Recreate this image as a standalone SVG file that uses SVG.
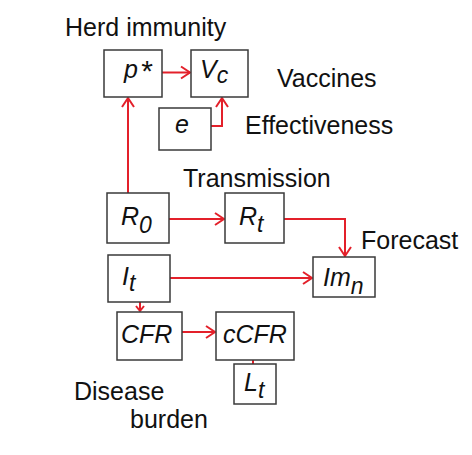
<svg xmlns="http://www.w3.org/2000/svg" width="472" height="455" viewBox="0 0 472 455">
<style>
.box{fill:#fff;stroke:#3a3a3a;stroke-width:1.5}
.lbl{font-family:"Liberation Sans",Arial,sans-serif;font-size:25px;font-style:italic;fill:#111}
.sub{font-size:23px}
.txt{font-family:"Liberation Sans",Arial,sans-serif;font-size:25px;fill:#111}
.con{fill:none;stroke:#e3202a;stroke-width:2}
</style>
<defs>
<marker id="ah" markerUnits="userSpaceOnUse" markerWidth="14" markerHeight="16" refX="10" refY="7" orient="auto" viewBox="0 0 14 14">
<path d="M1,1 L10,7 L1,13" fill="none" stroke="#e3202a" stroke-width="2"/>
</marker>
<marker id="ahs" markerUnits="userSpaceOnUse" markerWidth="10" markerHeight="12" refX="6" refY="5" orient="auto" viewBox="0 0 10 10">
<path d="M1,1 L6,5 L1,9" fill="none" stroke="#e3202a" stroke-width="2"/>
</marker>
</defs>
<rect width="472" height="455" fill="#fff"/>
<g id="labels">
<text class="txt" x="65" y="36">Herd immunity</text>
<text class="txt" x="277" y="87">Vaccines</text>
<text class="txt" x="245" y="134">Effectiveness</text>
<text class="txt" x="183" y="187">Transmission</text>
<text class="txt" x="361" y="249">Forecast</text>
<text class="txt" x="74" y="400">Disease</text>
<text class="txt" x="130" y="428">burden</text>
</g>
<g id="connectors">
<path class="con" d="M162,72.5 H190" marker-end="url(#ah)"/>
<path class="con" d="M211,126 H222 V98" marker-end="url(#ah)"/>
<path class="con" d="M128,193 V98" marker-end="url(#ah)"/>
<path class="con" d="M169,219 H224" marker-end="url(#ah)"/>
<path class="con" d="M284,219 H345 V256" marker-end="url(#ah)"/>
<path class="con" d="M170,278 H312" marker-end="url(#ah)"/>
<path class="con" d="M140,302 V311" marker-end="url(#ahs)"/>
<path class="con" d="M182,332 H215" marker-end="url(#ah)"/>
<path class="con" d="M253,360 V364"/>
</g>
<g id="node-pstar">
<rect class="box" x="104" y="50" width="58" height="47"/>
<text class="lbl" x="124" y="78">p<tspan dx="2" dy="3" font-size="30">*</tspan></text>
</g>
<g id="node-vc">
<rect class="box" x="191" y="50" width="57" height="47"/>
<text class="lbl" x="200" y="78">V<tspan class="sub" dy="5">c</tspan></text>
</g>
<g id="node-e">
<rect class="box" x="159" y="108" width="52" height="42"/>
<text class="lbl" x="175" y="133">e</text>
</g>
<g id="node-r0">
<rect class="box" x="107" y="193" width="62" height="50"/>
<text class="lbl" x="121" y="225">R<tspan class="sub" dy="8">0</tspan></text>
</g>
<g id="node-rt">
<rect class="box" x="225" y="193" width="59" height="50"/>
<text class="lbl" x="239" y="225">R<tspan class="sub" dy="7">t</tspan></text>
</g>
<g id="node-it">
<rect class="box" x="108" y="255" width="62" height="47"/>
<text class="lbl" x="122" y="285">I<tspan class="sub" dy="6">t</tspan></text>
</g>
<g id="node-imn">
<rect class="box" x="313" y="257" width="62" height="40"/>
<text class="lbl" x="323" y="286">Im<tspan class="sub" dy="8">n</tspan></text>
</g>
<g id="node-cfr">
<rect class="box" x="117" y="312" width="65" height="48"/>
<text class="lbl" x="121" y="343">CFR</text>
</g>
<g id="node-ccfr">
<rect class="box" x="216" y="312" width="78" height="48"/>
<text class="lbl" x="223" y="343">cCFR</text>
</g>
<g id="node-lt">
<rect class="box" x="234" y="364" width="42" height="40"/>
<text class="lbl" x="244" y="391">L<tspan class="sub" dy="7">t</tspan></text>
</g>
</svg>
